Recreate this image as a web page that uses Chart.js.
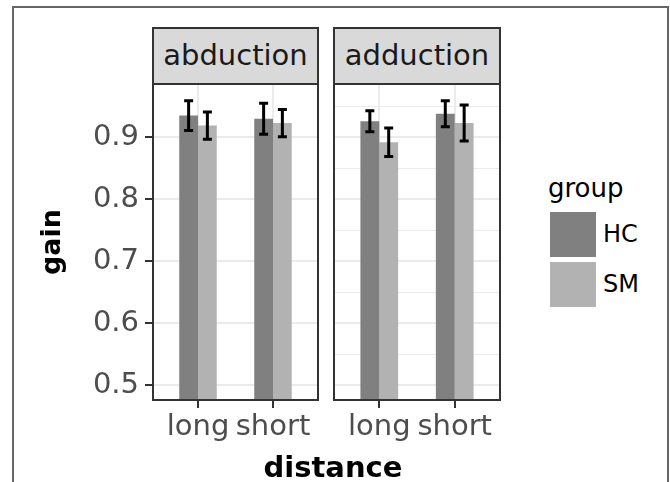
<!DOCTYPE html>
<html>
<head>
<meta charset="utf-8">
<script src="https://cdn.jsdelivr.net/npm/chart.js@4.4.1/dist/chart.umd.min.js"></script>
<style>
  body { margin: 0; background: #fff; width: 670px; height: 482px; overflow: hidden; position: relative; font-family: "DejaVu Sans", sans-serif; }
  .frame { position: absolute; left: 12px; top: 6px; width: 657px; height: 500px; border: 2px solid #666; box-sizing: border-box; }
  .cwrap { position: absolute; top: 0; }
  .strip { position: absolute; top: 27px; height: 58px; box-sizing: border-box; border: 2px solid #333; background: #d9d9d9;
           color: #1a1a1a; font-size: 29px; text-align: center; line-height: 52px; }
  .legend-title { position: absolute; left: 548px; top: 175px; font-size: 26px; line-height: 26px; color: #000; }
  .key { position: absolute; left: 550px; width: 46px; height: 45px; }
  .key-label { position: absolute; left: 603px; font-size: 24px; height: 45px; line-height: 45px; color: #000; }
  .xtitle { position: absolute; left: 0; width: 666px; top: 453px; text-align: center; font-size: 29px; font-weight: bold; line-height: 29px; color: #000; }
</style>
</head>
<body>
<div class="frame"></div>
<div class="cwrap" style="left:0px"><canvas id="panelA" width="330" height="482"></canvas></div>
<div class="cwrap" style="left:326px"><canvas id="panelB" width="180" height="482"></canvas></div>
<div class="strip" id="stripA" style="left:152px; width:167px"></div>
<div class="strip" id="stripB" style="left:333px; width:168px"></div>
<div class="legend-title" id="legendTitle"></div>
<div class="key" id="key0" style="top:212px"></div>
<div class="key" id="key1" style="top:262px"></div>
<div class="key-label" id="keyLabel0" style="top:212px"></div>
<div class="key-label" id="keyLabel1" style="top:262px"></div>
<div class="xtitle">distance</div>
<script>
var facets = ['abduction', 'adduction'];
var distances = ['long', 'short'];
var groups = ['HC', 'SM'];
var groupColors = ['#808080', '#b2b2b2'];

// mean gain per distance
var abductionHC = [0.935, 0.930];
var abductionSM = [0.919, 0.923];
var adductionHC = [0.926, 0.938];
var adductionSM = [0.892, 0.923];

// half length of the error bars
var abductionHCErr = [0.024, 0.025];
var abductionSMErr = [0.022, 0.022];
var adductionHCErr = [0.017, 0.021];
var adductionSMErr = [0.023, 0.029];

var yMajorTicks = [0.5, 0.6, 0.7, 0.8, 0.9];
var yMinorTicks = [0.55, 0.65, 0.75, 0.85, 0.95];
var yMin = 0.476, yMax = 0.986;

Chart.defaults.font.family = '"DejaVu Sans", sans-serif';
Chart.defaults.animation = false;

document.getElementById('stripA').textContent = facets[0];
document.getElementById('stripB').textContent = facets[1];
document.getElementById('legendTitle').textContent = 'group';
for (var k = 0; k < groups.length; k++) {
    document.getElementById('key' + k).style.background = groupColors[k];
    document.getElementById('keyLabel' + k).textContent = groups[k];
}

function isMajor(v) {
    return yMajorTicks.indexOf(v) !== -1;
}

// error bars + panel border
var panelExtras = {
    id: 'panelExtras',
    afterDatasetsDraw: function(chart) {
        var ctx = chart.ctx, a = chart.chartArea, y = chart.scales.y;
        ctx.save();
        ctx.strokeStyle = '#000';
        ctx.lineWidth = 3;
        chart.data.datasets.forEach(function(ds, i) {
            var meta = chart.getDatasetMeta(i);
            meta.data.forEach(function(bar, j) {
                var v = ds.data[j].y, e = ds.errors[j];
                var top = y.getPixelForValue(v + e), bot = y.getPixelForValue(v - e);
                ctx.beginPath();
                ctx.moveTo(bar.x, top); ctx.lineTo(bar.x, bot);
                ctx.moveTo(bar.x - 4.5, top); ctx.lineTo(bar.x + 4.5, top);
                ctx.moveTo(bar.x - 4.5, bot); ctx.lineTo(bar.x + 4.5, bot);
                ctx.stroke();
            });
        });
        ctx.strokeStyle = '#333';
        ctx.lineWidth = 2;
        ctx.strokeRect(a.left, a.top, a.right - a.left, a.bottom - a.top);
        ctx.restore();
    }
};

function toPoints(vals) {
    return distances.map(function(d, i) { return { x: i + 1, y: vals[i] }; });
}

function makePanel(id, hc, sm, hcErr, smErr, showY, padding) {
    var ctx = document.getElementById(id).getContext('2d');
    return new Chart(ctx, {
        type: 'bar',
        data: {
            datasets: [
                { label: groups[0], data: toPoints(hc), errors: hcErr, backgroundColor: groupColors[0], borderWidth: 0 },
                { label: groups[1], data: toPoints(sm), errors: smErr, backgroundColor: groupColors[1], borderWidth: 0 }
            ]
        },
        options: {
            responsive: false,
            layout: { padding: padding },
            categoryPercentage: 0.5,
            barPercentage: 1.0,
            plugins: { legend: { display: false }, tooltip: { enabled: false } },
            scales: {
                x: {
                    type: 'linear',
                    offset: false,
                    min: 0.4,
                    max: 2.6,
                    afterBuildTicks: function(scale) {
                        scale.ticks = distances.map(function(d, i) { return { value: i + 1 }; });
                    },
                    afterFit: function(scale) { scale.height = 82; },
                    border: { display: false },
                    grid: { offset: false, color: '#ebebeb', lineWidth: 2, tickColor: '#333', tickLength: 8, tickWidth: 2 },
                    ticks: {
                        autoSkip: false,
                        maxRotation: 0,
                        padding: 2,
                        color: '#4d4d4d',
                        font: { size: 29 },
                        callback: function(v) { return distances[v - 1]; }
                    }
                },
                y: {
                    min: yMin,
                    max: yMax,
                    afterBuildTicks: function(scale) {
                        scale.ticks = yMajorTicks.concat(yMinorTicks).sort().map(function(v) { return { value: v }; });
                    },
                    afterFit: function(scale) { scale.width = showY ? 153 : 0; },
                    border: { display: false },
                    grid: {
                        color: '#ebebeb',
                        lineWidth: function(c) { return isMajor(c.tick.value) ? 2 : 1; },
                        tickColor: function(c) { return isMajor(c.tick.value) ? '#333' : 'rgba(0,0,0,0)'; },
                        drawTicks: showY,
                        tickLength: 8,
                        tickWidth: 2
                    },
                    title: {
                        display: showY,
                        text: 'gain',
                        color: '#000',
                        font: { size: 27, weight: 'bold' },
                        padding: { top: 37, bottom: 0 }
                    },
                    ticks: {
                        display: showY,
                        padding: 6,
                        color: '#4d4d4d',
                        font: { size: 29 },
                        callback: function(v) { return isMajor(v) ? v.toFixed(1) : ''; }
                    }
                }
            }
        },
        plugins: [panelExtras]
    });
}

makePanel('panelA', abductionHC, abductionSM, abductionHCErr, abductionSMErr, true, { left: 0, right: 12, top: 84, bottom: 0 });
makePanel('panelB', adductionHC, adductionSM, adductionHCErr, adductionSMErr, false, { left: 8, right: 6, top: 84, bottom: 0 });
</script>
</body>
</html>
